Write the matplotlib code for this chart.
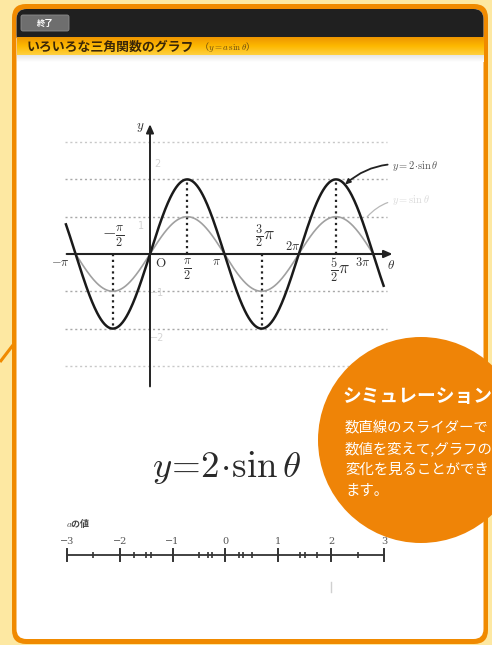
import numpy as np
import matplotlib
matplotlib.use('Agg')
import matplotlib.pyplot as plt
from matplotlib.patches import FancyBboxPatch, Circle

plt.rcParams['mathtext.fontset'] = 'cm'
JP = ['Noto Sans CJK JP', 'DejaVu Sans']

# ---- data ----
a_value = 2                       # current slider value
theta_black = (-1.13, 3.14)       # range of y=a sinθ, in units of pi
theta_grey = (-1.0, 3.0)          # range of reference y=sinθ
grid_levels = [3, 2, 1, -1, -2, -3]
drop_lines = [(-0.5, -2), (0.5, 2), (1.5, -2), (2.5, 2)]   # (theta/pi, y)
slider_major = [-3, -2, -1, 0, 1, 2, 3]
slider_labels = ['\u22123', '\u22122', '\u22121', '0', '1', '2', '3']
slider_minor = [-2.5, -1.73, -1.5, -1.41, -0.5, -0.33, -0.25,
                0.25, 0.33, 0.5, 1.41, 1.5, 1.73, 2.5]
title = 'いろいろな三角関数のグラフ'
sim_head = 'シミュレーション'
sim_body = ['数直線のスライダーで', '数値を変えて,グラフの', '変化を見ることができ', 'ます。']

W, H = 492, 645
ORANGE = '#F08A00'

fig = plt.figure(figsize=(W / 100, H / 100), dpi=100)
fig.patch.set_facecolor('#FDE8A2')


def px_axes(x0, y0, x1, y1, z=1):
    a = fig.add_axes([x0 / W, 1 - y1 / H, (x1 - x0) / W, (y1 - y0) / H], zorder=z)
    a.patch.set_alpha(0)
    return a


# ---- frame / window ----
bg = px_axes(0, 0, W, H, z=0)
bg.set_xlim(0, W)
bg.set_ylim(H, 0)
bg.axis('off')
bg.add_patch(FancyBboxPatch((12, 4), 476, 640, boxstyle='round,pad=0,rounding_size=14',
                            fc=ORANGE, ec='none'))
bg.add_patch(FancyBboxPatch((16.5, 9), 467, 630, boxstyle='round,pad=0,rounding_size=10',
                            fc='white', ec='none'))
bg.add_patch(FancyBboxPatch((16.5, 9), 467, 36, boxstyle='round,pad=0,rounding_size=10',
                            fc='#202020', ec='none'))
grad = np.linspace(0, 1, 40).reshape(-1, 1)
bg.imshow(grad, extent=(16.5, 483.5, 55, 37), origin='upper', aspect='auto', zorder=2,
          cmap=matplotlib.colors.LinearSegmentedColormap.from_list('t', ['#EE9600', '#FDB800', '#FFD040']))
bg.imshow(grad, extent=(16.5, 483.5, 62, 55), origin='upper', aspect='auto', zorder=2,
          cmap=matplotlib.colors.LinearSegmentedColormap.from_list('s', ['#E6E6E6', '#FFFFFF']))
bg.add_patch(FancyBboxPatch((21, 15), 48, 16, boxstyle='round,pad=0,rounding_size=2',
                            fc='#6E6E6E', ec='#8C8C8C', lw=0.6, zorder=3))
bg.text(45, 23, '終了', color='white', fontsize=6, ha='center', va='center',
        family=JP, fontweight='bold', zorder=4)
bg.text(27, 46.5, title, color='#3A2608', fontsize=9.3, va='center', family=JP,
        fontweight='bold', zorder=4)
bg.text(199, 46.5, '（$y=a\\,\\sin\\theta$）', color='#6A4A10', fontsize=6.5, va='center',
        family=JP, zorder=4)
bg.plot([0, 13], [362, 345], color=ORANGE, lw=2.2, solid_capstyle='butt')
bg.set_xlim(0, W)
bg.set_ylim(H, 0)

# ---- main graph ----
X0, PI_PX, Y0, U_PX = 150, 74.4, 254, 37.3
ax = px_axes(40, 110, 470, 395)
ax.set_xlim((40 - X0) / PI_PX * np.pi, (470 - X0) / PI_PX * np.pi)
ax.set_ylim((Y0 - 395) / U_PX, (Y0 - 110) / U_PX)
ax.axis('off')

gx = np.array([-1.144, 3.19]) * np.pi
for lev in grid_levels:
    c = '#C8C8C8' if abs(lev) == 3 else '#A8A8A8'
    ax.plot(gx, [lev, lev], color=c, lw=1.0, ls=(0, (1.5, 2)), zorder=1)

for t, yv in drop_lines:
    ax.plot([t * np.pi, t * np.pi], [0, yv], color='#222222', lw=1.6, ls=(0, (1, 1.6)), zorder=2)

tg = np.linspace(theta_grey[0] * np.pi, theta_grey[1] * np.pi, 400)
ax.plot(tg, np.sin(tg), color='#A0A0A0', lw=1.2, zorder=3)
tb = np.linspace(theta_black[0] * np.pi, theta_black[1] * np.pi, 500)
ax.plot(tb, a_value * np.sin(tb), color='#1A1A1A', lw=1.8, zorder=4)

ax.annotate('', xy=(3.26 * np.pi, 0), xytext=(-1.12 * np.pi, 0),
            arrowprops=dict(arrowstyle='-|>,head_length=0.5,head_width=0.22',
                            color='#222222', lw=1.5, shrinkA=0, shrinkB=0), zorder=5)
ax.annotate('', xy=(0, 3.48), xytext=(0, -3.55),
            arrowprops=dict(arrowstyle='-|>,head_length=0.5,head_width=0.22',
                            color='#222222', lw=1.4, shrinkA=0, shrinkB=0), zorder=5)

lab = dict(color='#333333', ha='center', va='center', zorder=6)
ax.text(-1.2 * np.pi, -0.24, r'$-\pi$', fontsize=9, **lab)
ax.text(0.14 * np.pi, -0.25, r'$\mathrm{O}$', fontsize=9.5, **lab)
ax.text(0.5 * np.pi, -0.42, r'$\frac{\pi}{2}$', fontsize=12.5, **lab)
ax.text(0.89 * np.pi, -0.2, r'$\pi$', fontsize=9, **lab)
ax.text(-0.5 * np.pi, 0.47, r'$-\frac{\pi}{2}$', fontsize=12.5, **lab)
ax.text(1.55 * np.pi, 0.47, r'$\frac{3}{2}\pi$', fontsize=12.5, **lab)
ax.text(1.92 * np.pi, 0.2, r'$2\pi$', fontsize=9, **lab)
ax.text(2.56 * np.pi, -0.44, r'$\frac{5}{2}\pi$', fontsize=12.5, **lab)
ax.text(2.86 * np.pi, -0.22, r'$3\pi$', fontsize=9, **lab)
ax.text(3.24 * np.pi, -0.3, r'$\theta$', fontsize=9.5, **lab)
ax.text(-0.13 * np.pi, 3.38, r'$y$', fontsize=9.5, **lab)
faint = dict(color='#D4D4D4', ha='center', va='center', fontsize=7, zorder=6)
ax.text(0.1 * np.pi, 2.4, '2', **faint)
ax.text(-0.12 * np.pi, 0.75, '1', **faint)
ax.text(0.1 * np.pi, -1.05, '\u22121', **faint)
ax.text(0.1 * np.pi, -2.25, '\u22122', **faint)

ax.annotate(r'$y=2\!\cdot\!\sin\theta$', xy=(2.62 * np.pi, 1.86), xytext=(3.25 * np.pi, 2.36),
            fontsize=7.5, color='#555555', va='center', ha='left',
            arrowprops=dict(arrowstyle='-|>,head_length=0.4,head_width=0.18', color='#222222',
                            lw=1.3, connectionstyle='arc3,rad=0.25', shrinkA=1, shrinkB=0),
            zorder=7)
ax.annotate(r'$y=\sin\theta$', xy=(2.92 * np.pi, 1.0), xytext=(3.25 * np.pi, 1.45),
            fontsize=7.5, color='#DADADA', va='center', ha='left',
            arrowprops=dict(arrowstyle='-', color='#B8B8B8', lw=0.9,
                            connectionstyle='arc3,rad=0.25', shrinkA=1, shrinkB=0),
            zorder=7)

# ---- formula ----
bg.text(226, 467, r'$y\!=\!2\!\cdot\!\sin\theta$', fontsize=26.5, color='#2A2A2A',
        ha='center', va='center')

# ---- slider (number line) ----
bg.text(66, 523, r'$a$' + 'の値', fontsize=6.5, color='#444444', va='center', family=JP,
        fontweight='bold')
nl = px_axes(40, 525, 420, 600)
nl.set_xlim(-3 - 27 / 52.83, 3 + 36 / 52.83)
nl.set_ylim(0, 1)
nl.axis('off')
nl.plot([slider_major[0], slider_major[-1]], [0.6, 0.6], color='#333333', lw=1.3)
for v, s in zip(slider_major, slider_labels):
    nl.plot([v, v], [0.52, 0.68], color='#333333', lw=1.4)
    nl.text(v, 0.78, s, fontsize=7, color='#555555', ha='center', va='center',
            family='DejaVu Serif')
nl.plot(slider_minor, [0.6] * len(slider_minor), ls='none', marker='|', ms=5,
        mew=1.2, color='#333333')
nl.plot([a_value, a_value], [0.11, 0.24], color='#D0D0D0', lw=1.0)

# ---- callout ----
top = px_axes(0, 0, W, H, z=3)
top.set_xlim(0, W)
top.set_ylim(H, 0)
top.axis('off')
top.add_patch(Circle((421, 440), 103, fc='#EF8407', ec='none'))
top.text(342, 397, sim_head, color='white', fontsize=13.5, fontweight='bold',
         family=JP, va='center', ha='left')
for i, line in enumerate(sim_body):
    top.text(345, 428 + 21 * i, line, color='white', fontsize=10.4, family=JP,
             va='center', ha='left')

fig.savefig('out.png', dpi=100)
